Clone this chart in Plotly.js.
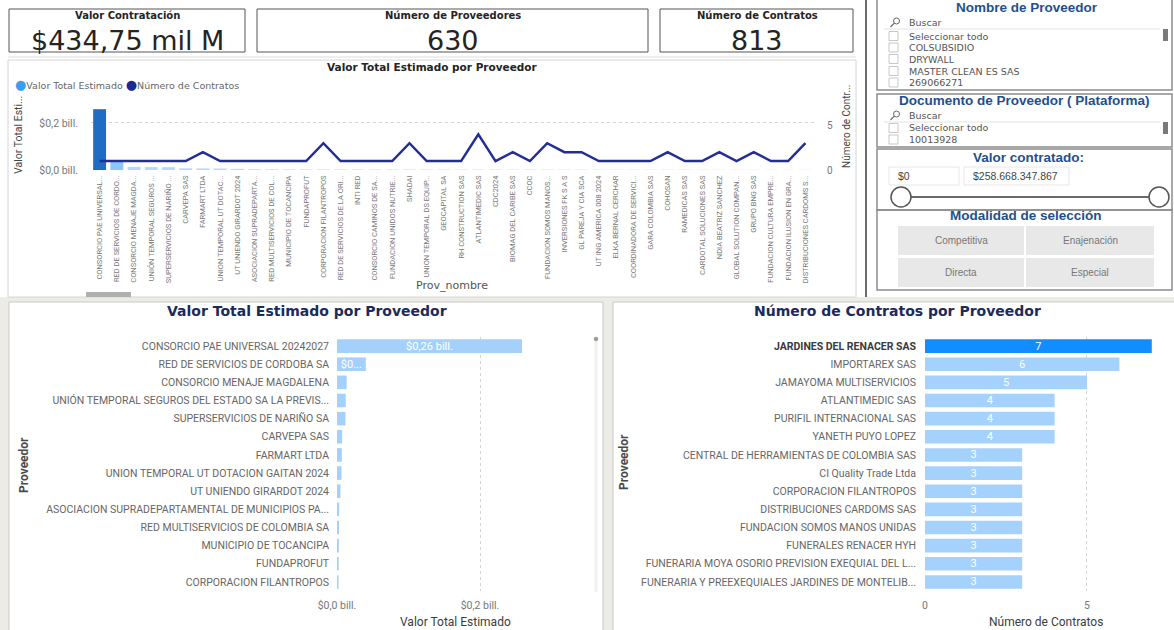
<!DOCTYPE html>
<html><head><meta charset="utf-8">
<script src="https://cdn.plot.ly/plotly-3.0.1.min.js"></script>
<style>html,body{margin:0;padding:0;background:#fff;overflow:hidden;} #chart{width:1174px;height:630px;}</style>
</head><body><div id="chart"></div>
<script>
// ---------- DATA ----------
const kpiTitles = ["Valor Contratación", "Número de Proveedores", "Número de Contratos"];
const kpiValues = ["$434,75 mil M", "630", "813"];

// Top combo chart (values in miles de millones de pesos)
const topProveedores = [
  "CONSORCIO PAE UNIVERSAL...", "RED DE SERVICIOS DE CORDO...", "CONSORCIO MENAJE MAGDA...",
  "UNIÓN TEMPORAL SEGUROS ...", "SUPERSERVICIOS DE NARIÑO ...", "CARVEPA SAS", "FARMART LTDA",
  "UNION TEMPORAL UT DOTAC...", "UT UNIENDO GIRARDOT 2024", "ASOCIACION SUPRADEPARTA...",
  "RED MULTISERVICIOS DE COL...", "MUNICIPIO DE TOCANCIPA", "FUNDAPROFUT", "CORPORACION FILANTROPOS",
  "RED DE SERVICIOS DE LA ORI...", "INTI RED", "CONSORCIO CAMINOS DE SA...", "FUNDACION UNIDOS NUTRIE...",
  "SHADAI", "UNION TEMPORAL DS EQUIP...", "GEOCAPITAL SA", "RH CONSTRUCTION SAS", "ATLANTIMEDIC SAS",
  "CDC2024", "BIOMAG DEL CARIBE SAS", "CCOC", "FUNDACION SOMOS MANOS...", "INVERSIONES FK S A S",
  "GL PAREJA Y CIA SCA", "UT ING AMERICA 008 2024", "ELKA BERNAL CERCHAR", "COORDINADORA DE SERVICI...",
  "GARA COLOMBIA SAS", "COHOSAN", "RAMEDICAS SAS", "CARDOTAL SOLUCIONES SAS", "NDIA BEATRIZ SANCHEZ",
  "GLOBAL SOLUTION COMPAN...", "GRUPO BNG SAS", "FUNDACION CULTURA EMPRE...", "FUNDACION ILUSION EN GRA...",
  "DISTRIBUCIONES CARDOMS S..."
];
const topValorEstimado = [
  258.67, 40.3, 13.5, 12.2, 11.8, 7.2, 6.8, 6.3, 4.8, 3.0, 2.8, 2.6, 2.4, 2.2,
  2.1, 2.0, 1.9, 1.9, 1.8, 1.7, 1.7, 1.6, 1.5, 1.5, 1.4, 1.4, 1.3, 1.3,
  1.2, 1.2, 1.1, 1.1, 1.0, 1.0, 0.95, 0.9, 0.9, 0.85, 0.8, 0.8, 0.75, 0.7
];
const topNumContratos = [
  1, 1, 1, 1, 1, 1, 2, 1, 1, 1, 1, 1, 1, 3, 1, 1, 1, 1, 3, 1, 1,
  1, 4, 1, 2, 1, 3, 2, 2, 1, 1, 1, 1, 2, 1, 1, 2, 1, 2, 1, 1, 3
];
const valorTickVals = [0, 200];
const valorTickText = ["$0,0 bill.", "$0,2 bill."];

// Bottom-left bar chart
const provValor = [
  "CONSORCIO PAE UNIVERSAL 20242027", "RED DE SERVICIOS DE CORDOBA SA", "CONSORCIO MENAJE MAGDALENA",
  "UNIÓN TEMPORAL SEGUROS DEL ESTADO SA LA PREVIS...", "SUPERSERVICIOS DE NARIÑO SA", "CARVEPA SAS",
  "FARMART LTDA", "UNION TEMPORAL UT DOTACION GAITAN 2024", "UT UNIENDO GIRARDOT 2024",
  "ASOCIACION SUPRADEPARTAMENTAL DE MUNICIPIOS PA...", "RED MULTISERVICIOS DE COLOMBIA SA",
  "MUNICIPIO DE TOCANCIPA", "FUNDAPROFUT", "CORPORACION FILANTROPOS"
];
const valorEstimado = [258.67, 40.3, 13.5, 12.2, 11.8, 7.2, 6.8, 6.3, 4.8, 3.0, 2.8, 2.6, 2.4, 2.2];
const valorEtiquetas = ["$0,26 bill.", "$0...", "", "", "", "", "", "", "", "", "", "", "", ""];

// Bottom-right bar chart
const provContratos = [
  "JARDINES DEL RENACER SAS", "IMPORTAREX SAS", "JAMAYOMA MULTISERVICIOS", "ATLANTIMEDIC SAS",
  "PURIFIL INTERNACIONAL SAS", "YANETH PUYO LOPEZ", "CENTRAL DE HERRAMIENTAS DE COLOMBIA SAS",
  "CI Quality Trade Ltda", "CORPORACION FILANTROPOS", "DISTRIBUCIONES CARDOMS SAS",
  "FUNDACION SOMOS MANOS UNIDAS", "FUNERALES RENACER HYH",
  "FUNERARIA MOYA OSORIO PREVISION EXEQUIAL DEL L...", "FUNERARIA Y PREEXEQUIALES JARDINES DE MONTELIB..."
];
const numContratos = [7, 6, 5, 4, 4, 4, 3, 3, 3, 3, 3, 3, 3, 3];

// Slicers
const slicerNombres = ["Seleccionar todo", "COLSUBSIDIO", "DRYWALL", "MASTER CLEAN ES SAS", "269066271"];
const slicerDocumentos = ["Seleccionar todo", "10013928"];
const rangoValor = ["$0", "$258.668.347.867"];
const modalidades = ["Competitiva", "Enajenación", "Directa", "Especial"];

// ---------- HELPERS ----------
const W = 1174, H = 630;
const F = "Roboto, 'Open Sans', sans-serif";
const FS = "'Open Sans', 'Noto Sans', sans-serif";
const FD = "'DejaVu Sans', Verdana, sans-serif";
const FA = "'Liberation Sans', Arial, sans-serif";
const px = v => v / W, py = v => 1 - v / H;
function ann(text, x, y, font, o) {
  return Object.assign({text, x: px(x), y: py(y), xref: 'paper', yref: 'paper', showarrow: false,
    xanchor: 'center', yanchor: 'middle', font}, o || {});
}
function rect(x0, y0, x1, y1, line, fill, width, layer) {
  return {type: 'rect', xref: 'paper', yref: 'paper', x0: px(x0), x1: px(x1), y0: py(y0), y1: py(y1),
    line: {color: line || 'rgba(0,0,0,0)', width: width == null ? 1 : width},
    fillcolor: fill || 'rgba(0,0,0,0)', layer: layer || 'above'};
}
function seg(x0, y0, x1, y1, color, width, layer) {
  return {type: 'line', xref: 'paper', yref: 'paper', x0: px(x0), x1: px(x1), y0: py(y0), y1: py(y1),
    line: {color, width}, layer: layer || 'above'};
}
function circ(cx, cy, r, line, fill, width) {
  return {type: 'circle', xref: 'paper', yref: 'paper', x0: px(cx - r), x1: px(cx + r), y0: py(cy + r), y1: py(cy - r),
    line: {color: line, width}, fillcolor: fill || 'rgba(0,0,0,0)', layer: 'above'};
}

// ---------- TRACES ----------
const topColors = topValorEstimado.map((v, i) => i === 0 ? '#1f6cc3' : (i === 1 ? '#8cc6f9' : '#b3d9fc'));
const traces = [
  {type: 'bar', x: topProveedores, y: topValorEstimado, xaxis: 'x', yaxis: 'y',
   marker: {color: topColors}, name: 'Valor Total Estimado', hoverinfo: 'skip'},
  {type: 'scatter', mode: 'lines', x: topProveedores, y: topNumContratos, xaxis: 'x', yaxis: 'y2',
   line: {color: '#222e96', width: 2.5}, name: 'Número de Contratos', hoverinfo: 'skip'},
  {type: 'bar', orientation: 'h', y: provValor, x: valorEstimado, xaxis: 'x2', yaxis: 'y3',
   marker: {color: '#a4d1fb'}, text: valorEtiquetas, textposition: 'inside', insidetextanchor: 'middle',
   textangle: 0, textfont: {family: F, size: 11, color: '#ffffff'}, hoverinfo: 'skip', cliponaxis: false},
  {type: 'bar', orientation: 'h', y: provContratos, x: numContratos, xaxis: 'x3', yaxis: 'y4',
   marker: {color: numContratos.map((v, i) => i === 0 ? '#118dff' : '#a4d2fd')},
   texttemplate: '%{x}', textposition: 'inside', insidetextanchor: 'middle', textangle: 0,
   textfont: {family: F, size: 11, color: '#ffffff'}, hoverinfo: 'skip'}
];

// ---------- SHAPES ----------
const shapes = [
  rect(0, 297, 1174, 632, null, '#ecebe6', 0, 'below'),
  rect(9, 302, 603, 640, '#c9c9c9', '#ffffff', 1, 'below'),
  rect(613, 302, 1190, 640, '#c9c9c9', '#ffffff', 1, 'below'),
  rect(9, 9, 245, 52, '#555555', null, 1),
  rect(257, 9, 648, 52, '#555555', null, 1),
  rect(660, 9, 853, 52, '#555555', null, 1),
  seg(8, 57, 856, 57, '#dddddd', 1),
  rect(8, 60, 856, 297, '#d6d6d6', null, 1, 'below'),
  {type: 'rect', xref: 'paper', yref: 'paper', x0: px(86), x1: px(131), y0: py(292), y1: py(297),
   line: {width: 0}, fillcolor: '#b0b0b0', layer: 'above'},
  rect(594.5, 337, 597.5, 592, null, '#f0f0f0', 0),
  circ(596, 339, 2, '#9a9a9a', '#9a9a9a', 0.5),
  seg(866, 0, 866, 297, '#6b6b6b', 2),
  rect(877, -5, 1172, 90, '#8c8c8c', null, 1.5),
  rect(877, 94, 1172, 147, '#8c8c8c', null, 1.5),
  rect(877, 149, 1172, 210, '#8c8c8c', null, 1.5),
  rect(877, 210, 1172, 290, '#8c8c8c', null, 1.5),
  seg(884, 29, 1160, 29, '#e3e3e3', 1),
  seg(884, 122, 1160, 122, '#e3e3e3', 1),
  rect(1163, 29, 1168, 41, null, '#7a7a7a', 0),
  rect(1163, 122, 1168, 134, null, '#7a7a7a', 0),
  rect(889, 167, 959, 185, '#e6e6e6', '#ffffff', 1),
  rect(964, 167, 1069, 185, '#e6e6e6', '#ffffff', 1),
  seg(901, 197, 1159, 197, '#6b6b6b', 2),
  circ(901, 197, 10, '#555555', '#ffffff', 1.5),
  circ(1159, 197, 10, '#555555', '#ffffff', 1.5),
  rect(898, 226, 1024, 255, null, '#e8e8e8', 0),
  rect(1026, 226, 1154, 255, null, '#e8e8e8', 0),
  rect(898, 258, 1024, 287, null, '#e8e8e8', 0),
  rect(1026, 258, 1154, 287, null, '#e8e8e8', 0)
];
[21, 114].forEach(cy => {
  shapes.push(circ(896.5, cy, 3, '#666666', null, 1));
  shapes.push(seg(894.3, cy + 2.2, 890.5, cy + 6, '#666666', 1.2));
});
const nombreRows = [36, 47.5, 59, 71, 82.5];
nombreRows.forEach(y => shapes.push(rect(889, y - 4.5, 898, y + 4.5, '#c8c8c8', '#ffffff', 1)));
const docRows = [128, 139.5];
docRows.forEach(y => shapes.push(rect(889, y - 4.5, 898, y + 4.5, '#c8c8c8', '#ffffff', 1)));

// ---------- ANNOTATIONS ----------
const annotations = [];
const kpiCenters = [127, 453, 757];
kpiTitles.forEach((t, i) => {
  annotations.push(ann('<b>' + t + '</b>', kpiCenters[i], 15.5, {family: FD, size: 10, color: '#252423'}));
  annotations.push(ann(kpiValues[i], kpiCenters[i], 40, {family: FD, size: 27, color: '#252423'}));
});
annotations.push(ann('<b>Valor Total Estimado por Proveedor</b>', 432, 67, {family: FD, size: 10.5, color: '#252423'}));
annotations.push(ann('<span style="color:#3a9cf3;font-size:13px">●</span>Valor Total Estimado <span style="color:#1c2a90;font-size:13px">●</span>Número de Contratos',
  13, 85, {family: FD, size: 9.5, color: '#666666'}, {xanchor: 'left'}));
annotations.push(ann('Valor Total Esti...', 18, 135, {family: F, size: 10.5, color: '#444444'}, {textangle: -90}));
annotations.push(ann('Número de Contr...', 847, 126, {family: F, size: 10, color: '#444444'}, {textangle: -90}));
annotations.push(ann('Prov_nombre', 452, 286, {family: FD, size: 11, color: '#555555'}));
annotations.push(ann('<b>Valor Total Estimado por Proveedor</b>', 307, 311, {family: FD, size: 14, color: '#1b2a5c'}));
annotations.push(ann('<b>Número de Contratos por Proveedor</b>', 897, 311, {family: FD, size: 14, color: '#1b2a5c'}));
annotations.push(ann('Valor Total Estimado', 455, 622, {family: F, size: 12, color: '#3c3c3c'}));
annotations.push(ann('Número de Contratos', 1046, 622, {family: F, size: 12, color: '#3c3c3c'}));
annotations.push(ann('<b>Proveedor</b>', 24, 465, {family: F, size: 12, color: '#4a4a4a'}, {textangle: -90}));
annotations.push(ann('<b>Proveedor</b>', 624, 462, {family: F, size: 12, color: '#4a4a4a'}, {textangle: -90}));
const ST = {family: FA, size: 13.5, color: '#1f4f8f'};
const SI = {family: FD, size: 9.5, color: '#555555'};
annotations.push(ann('<b>Nombre de Proveedor</b>', 1027, 8, ST));
annotations.push(ann('Buscar', 907, 22.5, SI, {xanchor: 'left'}));
slicerNombres.forEach((t, i) => annotations.push(ann(t, 907, nombreRows[i], SI, {xanchor: 'left'})));
annotations.push(ann('<b>Documento de Proveedor ( Plataforma)</b>', 1024, 100.5, ST));
annotations.push(ann('Buscar', 907, 115.5, SI, {xanchor: 'left'}));
slicerDocumentos.forEach((t, i) => annotations.push(ann(t, 907, docRows[i], SI, {xanchor: 'left'})));
annotations.push(ann('<b>Valor contratado:</b>', 1028, 157, ST));
annotations.push(ann(rangoValor[0], 896, 176, {family: FA, size: 10.5, color: '#444444'}, {xanchor: 'left'}));
annotations.push(ann(rangoValor[1], 971, 176, {family: FA, size: 10.5, color: '#444444'}, {xanchor: 'left'}));
annotations.push(ann('<b>Modalidad de selección</b>', 1026, 215.5, ST));
const btnPos = [[961, 240.5], [1090, 240.5], [961, 272.5], [1090, 272.5]];
modalidades.forEach((t, i) => annotations.push(ann(t, btnPos[i][0], btnPos[i][1], {family: FA, size: 10, color: '#777777'})));

// ---------- LAYOUT ----------
const gridDot = {showgrid: true, gridcolor: '#d4d4d4', griddash: 'dot', gridwidth: 1, zeroline: false};
const layout = {
  width: W, height: H, margin: {l: 0, r: 0, t: 0, b: 0},
  paper_bgcolor: '#ffffff', plot_bgcolor: 'rgba(0,0,0,0)',
  showlegend: false, bargap: 0.25,
  uniformtext: {minsize: 9, mode: 'show'},
  xaxis: {domain: [px(91), px(814)], anchor: 'y', type: 'category', tickmode: 'linear', tick0: 0, dtick: 1,
    tickangle: -90, tickfont: {family: F, size: 7.5, color: '#777777'}, showgrid: false, showline: false,
    ticks: '', automargin: false, ticklabelstandoff: 3, fixedrange: true},
  yaxis: Object.assign({domain: [py(170), py(103)], anchor: 'x', range: [0, 285],
    tickvals: valorTickVals, ticktext: valorTickText, tickfont: {family: F, size: 10.5, color: '#777777'},
    ticklabelstandoff: 12, automargin: false, showline: false, ticks: ''}, gridDot),
  yaxis2: {overlaying: 'y', side: 'right', anchor: 'x', range: [0, 7.5], tickvals: [0, 5],
    tickfont: {family: F, size: 10, color: '#777777'}, showgrid: false, zeroline: false,
    ticklabelstandoff: 12, automargin: false, showline: false, ticks: ''},
  xaxis2: Object.assign({domain: [px(337), px(573)], anchor: 'y3', range: [0, 330],
    tickvals: valorTickVals, ticktext: valorTickText, tickfont: {family: F, size: 10.5, color: '#777777'},
    ticklabelstandoff: 6, automargin: false, showline: false, ticks: ''}, gridDot),
  yaxis3: {domain: [py(591), py(337)], anchor: 'x2', type: 'category', autorange: 'reversed',
    tickmode: 'linear', tick0: 0, dtick: 1,
    tickfont: {family: F, size: 10.5, color: '#666666'}, ticklabelstandoff: 7, automargin: false,
    showgrid: false, showline: false, ticks: ''},
  xaxis3: Object.assign({domain: [px(925), px(1167)], anchor: 'y4', range: [0, 7.47], tickvals: [0, 5],
    tickfont: {family: F, size: 10.5, color: '#777777'}, ticklabelstandoff: 6, automargin: false,
    showline: false, ticks: ''}, gridDot),
  yaxis4: {domain: [py(591), py(337)], anchor: 'x3', type: 'category', autorange: 'reversed',
    tickvals: provContratos,
    ticktext: provContratos.map((p, i) => i === 0 ? '<b><span style="color:#3a3a3a">' + p + '</span></b>' : p),
    tickfont: {family: F, size: 10.5, color: '#666666'}, ticklabelstandoff: 8, automargin: false,
    showgrid: false, showline: false, ticks: ''},
  shapes, annotations
};
Plotly.newPlot('chart', traces, layout, {displayModeBar: false, staticPlot: true});
</script></body></html>
